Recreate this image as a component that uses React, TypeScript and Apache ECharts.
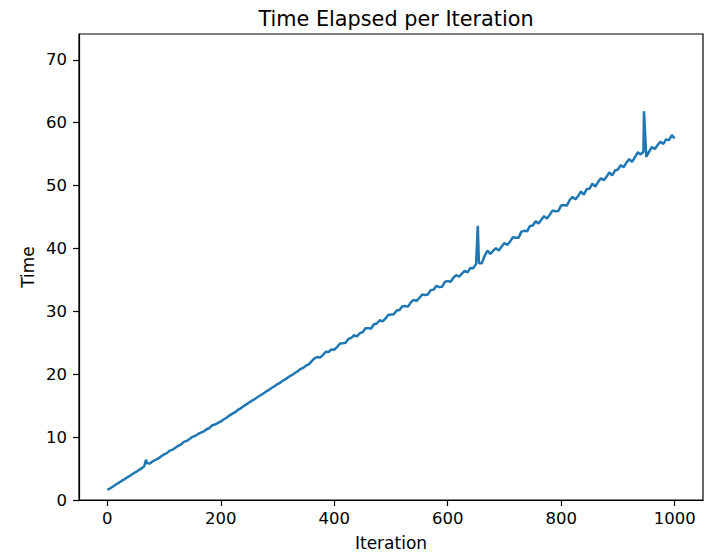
import React, { useEffect, useRef } from "react";
import * as echarts from "echarts";

// Sampled every 5 iterations (0..1000)
const sampleStep = 5;
const sampleTimes: number[] = [
  // 0..60
  1.60, 1.86, 2.15, 2.46, 2.72, 3.03, 3.29, 3.60, 3.86, 4.17, 4.42, 4.74, 5.02,
  // 65..200
  5.35, 5.85, 5.80, 6.15, 6.40, 6.62, 6.95, 7.25, 7.45, 7.85, 8.02,
  8.30, 8.62, 8.85, 9.25, 9.40, 9.70, 10.05, 10.22, 10.50, 10.70, 10.90, 11.25,
  11.45, 11.90, 12.00, 12.25, 12.50,
  // 205..355
  12.80, 13.08, 13.42, 13.70, 13.97, 14.32, 14.58, 14.90, 15.20, 15.50,
  15.80, 16.06, 16.38, 16.66, 16.94, 17.27, 17.52, 17.85, 18.10, 18.44,
  18.68, 19.02, 19.26, 19.60, 19.85, 20.17, 20.43, 20.80, 21.00, 21.35, 21.58,
  // 360..
  22.05,
  22.51, 22.73, 22.64, 23.05, 23.57, 23.53, 23.94, 23.91, 24.32, 24.88,
  24.94, 25.01, 25.62, 25.78, 26.20, 26.01, 26.52, 26.69, 27.30, 27.32,
  27.28, 27.95, 28.07, 28.58, 28.40, 28.82, 29.43, 29.50, 29.52, 30.13,
  30.20, 30.82, 30.83, 30.75, 31.42, 31.83, 31.65, 32.12, 32.68, 32.60,
  32.67, 33.38, 33.45, 34.05, 33.85, 33.90, 34.70, 34.80, 34.70, 35.35,
  35.75, 35.50, 36.00, 36.45, 36.20, 36.90, 36.85, 37.55, 37.65, 37.65,
  38.80, 39.65, 39.15, 39.60, 40.05, 39.65, 40.32, 40.88, 40.55, 41.12,
  41.78, 41.70, 41.72, 42.68, 42.80, 42.72, 43.58, 43.65, 44.34, 43.98,
  44.56, 45.15, 44.74, 45.38, 46.06, 45.90, 45.95, 46.85, 46.90, 46.80,
  47.70, 48.20, 47.80, 48.35, 49.05, 48.55, 49.45, 49.50, 50.30, 49.85,
  50.55, 51.15, 50.85, 51.40, 52.10, 51.60, 52.40, 52.55, 53.25, 52.90,
  53.65, 54.20, 53.75, 54.50, 55.30, 54.95, 55.38, 54.57, 55.40, 56.13,
  55.82, 56.45, 56.98, 56.62, 57.35, 57.23, 58.02, 57.50,
];

// Isolated spikes
const spikeIterations: number[] = [68, 653, 946];
const spikeTimes: number[] = [6.4, 43.6, 61.8];

const xTicks: number[] = [0, 200, 400, 600, 800, 1000];
const yTicks: number[] = [0, 10, 20, 30, 40, 50, 60, 70];

const FONT = "DejaVu Sans";

export default function App() {
  const ref = useRef<HTMLDivElement>(null);
  useEffect(() => {
    if (!ref.current) return;
    const chart = echarts.init(ref.current, undefined, { renderer: "svg" });
    const pts: [number, number][] = sampleTimes.map((t, k) => [k * sampleStep, t]);
    spikeIterations.forEach((it, k) => pts.push([it, spikeTimes[k]]));
    pts.sort((a, b) => a[0] - b[0]);

    const axisCommon = {
      axisLine: { show: true, onZero: false, lineStyle: { color: "#000", width: 1.2 } },
      splitLine: { show: false },
      nameMoveOverlap: false,
    };

    chart.setOption({
      animation: false,
      backgroundColor: "#fff",
      title: {
        text: "Time Elapsed per Iteration",
        left: 391,
        textAlign: "center",
        top: 3,
        textStyle: { fontFamily: FONT, fontSize: 20.8, fontWeight: "normal", color: "#000" },
      },
      grid: {
        left: 79,
        right: 3,
        top: 34,
        bottom: 52,
        show: true,
        borderColor: "#000",
        borderWidth: 1.2,
        backgroundColor: "transparent",
        outerBoundsMode: "none",
        containLabel: false,
      },
      xAxis: {
        type: "value",
        min: -50,
        max: 1050,
        name: "Iteration",
        nameLocation: "middle",
        nameGap: 34,
        nameTextStyle: { fontFamily: FONT, fontSize: 17, color: "#000" },
        ...axisCommon,
        axisTick: {
          show: true,
          length: 6,
          customValues: xTicks,
          lineStyle: { color: "#000", width: 1.2 },
        },
        axisLabel: {
          customValues: xTicks,
          margin: 10,
          fontFamily: FONT,
          fontSize: 16.5,
          color: "#000",
          formatter: (v: number) => String(v),
        },
      },
      yAxis: {
        type: "value",
        min: 0,
        max: 74.1,
        name: "Time",
        nameLocation: "middle",
        nameGap: 43,
        nameRotate: 90,
        nameTextStyle: { fontFamily: FONT, fontSize: 17, color: "#000" },
        ...axisCommon,
        axisTick: {
          show: true,
          length: 6,
          customValues: yTicks,
          lineStyle: { color: "#000", width: 1.2 },
        },
        axisLabel: {
          customValues: yTicks,
          margin: 12,
          fontFamily: FONT,
          fontSize: 16.5,
          color: "#000",
          formatter: (v: number) => String(v),
        },
      },
      series: [
        {
          type: "line",
          data: pts,
          showSymbol: false,
          symbol: "none",
          lineStyle: { color: "#1f77b4", width: 2.5 },
          itemStyle: { color: "#1f77b4" },
        },
      ],
    });
    return () => chart.dispose();
  }, []);
  return <div ref={ref} style={{ width: 706, height: 552, position: "absolute", left: 0, top: 0 }} />;
}
